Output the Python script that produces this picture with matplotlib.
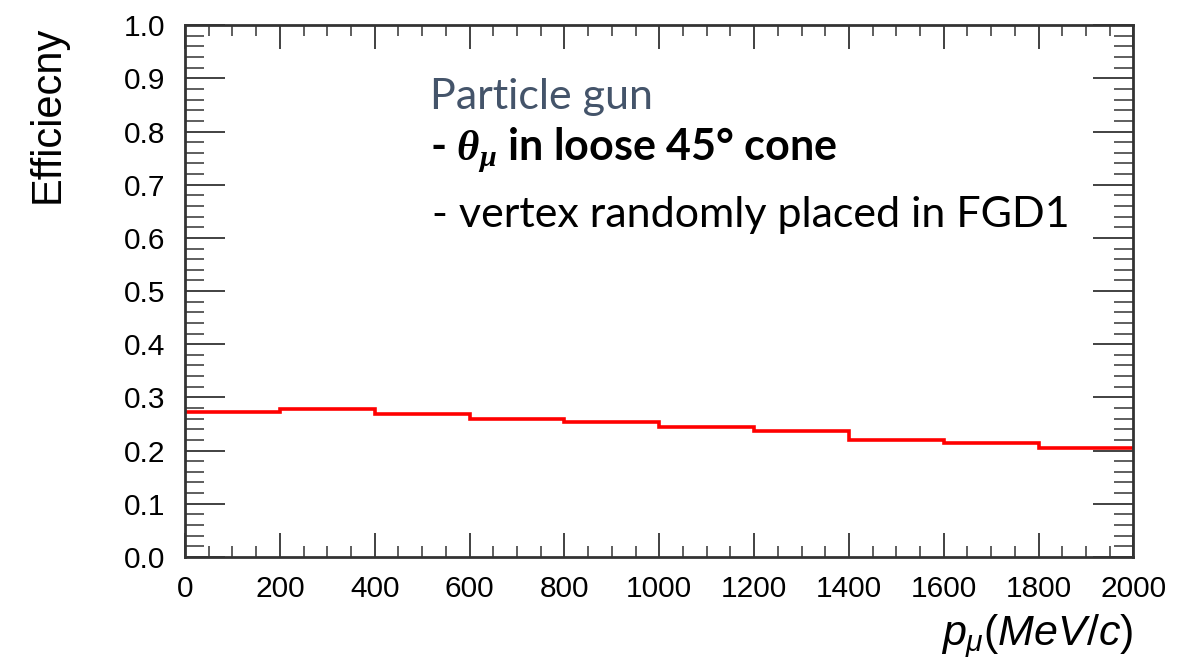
import matplotlib
matplotlib.use('Agg')

import matplotlib.pyplot as plt
import numpy as np
from matplotlib.ticker import MultipleLocator

# Muon reconstruction efficiency vs. momentum (10 bins, 0-2000 MeV/c)
bin_edges = [0, 200, 400, 600, 800, 1000, 1200, 1400, 1600, 1800, 2000]
efficiency = [0.273, 0.278, 0.268, 0.259, 0.254, 0.244, 0.237, 0.220, 0.214, 0.204]

title_line = "Particle gun"
cut_line = r"- $\mathbfit{\theta}_{\mathbfit{\mu}}$ in loose 45° cone"
vertex_line = "- vertex randomly placed in FGD1"

plt.rcParams['font.family'] = ['Liberation Sans', 'DejaVu Sans']
plt.rcParams['mathtext.fontset'] = 'custom'
plt.rcParams['mathtext.rm'] = 'Liberation Sans'
plt.rcParams['mathtext.it'] = 'Liberation Sans:italic'
plt.rcParams['mathtext.bf'] = 'Liberation Sans:bold'
plt.rcParams['mathtext.bfit'] = 'Liberation Serif:bold:italic'

fig = plt.figure(figsize=(11.89, 6.63), dpi=100)
ax = fig.add_axes([0.1556, 0.160, 0.7977, 0.802])

ax.stairs(efficiency, bin_edges, color='#ff0000', linewidth=2.6, baseline=None)

ax.set_xlim(0, 2000)
ax.set_ylim(0, 1.0)
ax.xaxis.set_major_locator(MultipleLocator(200))
ax.xaxis.set_minor_locator(MultipleLocator(50))
ax.yaxis.set_major_locator(MultipleLocator(0.1))
ax.yaxis.set_minor_locator(MultipleLocator(0.02))
ax.yaxis.set_major_formatter(plt.FuncFormatter(lambda v, p: f"{v:.1f}"))

ax.tick_params(which='both', direction='in', top=True, right=True,
               color='#333333', labelsize=21.5, pad=14)
ax.tick_params(axis='x', which='major', length=17, width=1.3, pad=13)
ax.tick_params(axis='x', which='minor', length=8, width=1.1)
ax.tick_params(axis='y', which='major', length=29, width=1.3)
ax.tick_params(axis='y', which='minor', length=14, width=1.1)
for s in ax.spines.values():
    s.set_linewidth(2)
    s.set_color('#333333')

ax.set_ylabel("Efficiecny", fontsize=30, loc='top')
ax.yaxis.set_label_coords(-0.124, 1.0)
ax.set_xlabel(r"$p_{\mu}(MeV/c)$", fontsize=31, loc='right')
ax.xaxis.set_label_coords(1.0, -0.104)

# annotation block
ax.text(0.258, 0.865, title_line, transform=ax.transAxes, fontsize=31,
        family='Lato', color='#44546a', va='center')
ax.text(0.258, 0.765, cut_line, transform=ax.transAxes, fontsize=31,
        family='Lato', fontweight='bold', color='black', va='center')
ax.text(0.260, 0.643, vertex_line, transform=ax.transAxes, fontsize=31,
        family='Lato', color='black', va='center')

fig.savefig('out.png', dpi=100)
